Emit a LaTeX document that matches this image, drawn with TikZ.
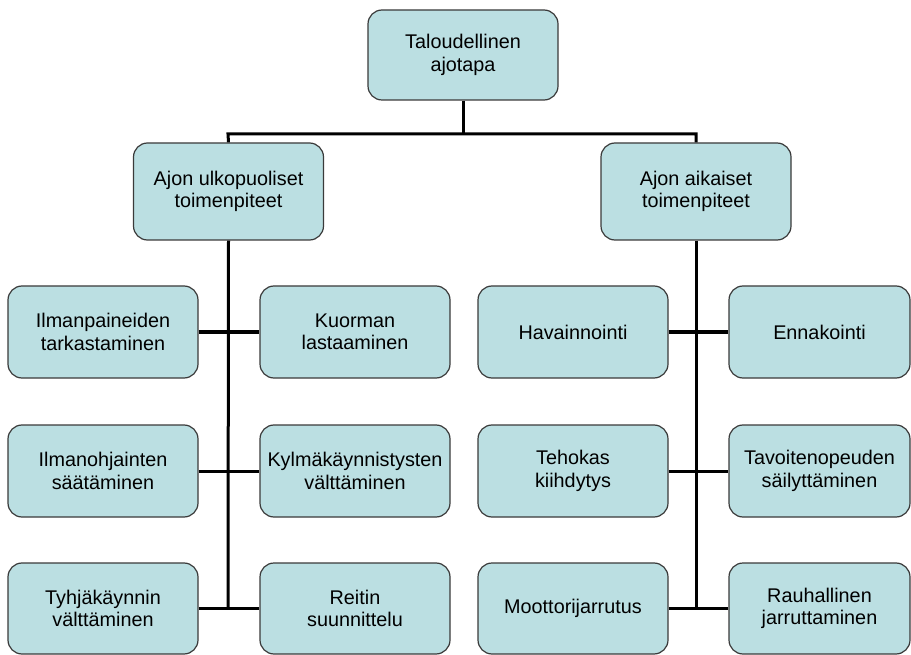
\documentclass[tikz,border=0pt]{standalone}
\usepackage{fontspec}
\setmainfont{Liberation Sans}
\definecolor{boxfill}{RGB}{187,223,226}
\definecolor{boxline}{RGB}{58,58,58}
\begin{document}
\begin{tikzpicture}[x=1pt,y=-1pt,
  box/.style={draw=boxline, fill=boxfill, line width=1.2pt, rounded corners=14pt,
    minimum width=190pt, minimum height=92pt, inner sep=0pt, align=center,
    font=\fontsize{19.8}{22.5}\selectfont},
  link/.style={line width=3pt, line join=miter}]
\useasboundingbox (0,0) rectangle (911,655);

% bus and trunk end points
\coordinate (busL) at (228,134);
\coordinate (busR) at (696,134);
\coordinate (top-bus) at (463,134);
\coordinate (endL) at (228,609);
\coordinate (endR) at (696,609);

% top
\node[box, minimum height=90pt] (top) at (463,55) {Taloudellinen\\ajotapa};

% second level
\node[box, minimum height=97pt] (outside) at (228.5,191.5) {Ajon ulkopuoliset\\toimenpiteet};
\node[box, minimum height=97pt] (driving) at (696,191.5) {Ajon aikaiset\\toimenpiteet};

% left group
\node[box] (a1) at (103,332) {Ilmanpaineiden\\tarkastaminen};
\node[box] (b1) at (355,332) {Kuorman\\lastaaminen};
\node[box] (a2) at (103,471) {Ilmanohjainten\\säätäminen};
\node[box] (b2) at (355,471) {Kylmäkäynnistysten\\välttäminen};
\node[box, minimum height=91pt] (a3) at (103,608.5) {Tyhjäkäynnin\\välttäminen};
\node[box, minimum height=91pt] (b3) at (355,608.5) {Reitin\\suunnittelu};

% right group
\node[box] (c1) at (573,332) {Havainnointi};
\node[box, minimum width=181pt] (d1) at (819.5,332) {Ennakointi};
\node[box] (c2) at (573,471) {Tehokas\\kiihdytys};
\node[box, minimum width=181pt] (d2) at (819.5,471) {Tavoitenopeuden\\säilyttäminen};
\node[box, minimum height=91pt] (c3) at (573,608.5) {Moottorijarrutus};
\node[box, minimum width=181pt, minimum height=91pt] (d3) at (819.5,608.5) {Rauhallinen\\jarruttaminen};

% connectors
\draw[link] (top.south) -- (top-bus);
\draw[link] (outside.north) -- (busL) -- (busR) -- (driving.north);
\draw[link] (outside.south) -- (endL);
\draw[link] (driving.south) -- (endR);
\foreach \l/\r in {a1/b1,a2/b2,a3/b3,c1/d1,c2/d2,c3/d3}
  \draw[link] (\l.east) -- (\r.west);
\end{tikzpicture}
\end{document}
